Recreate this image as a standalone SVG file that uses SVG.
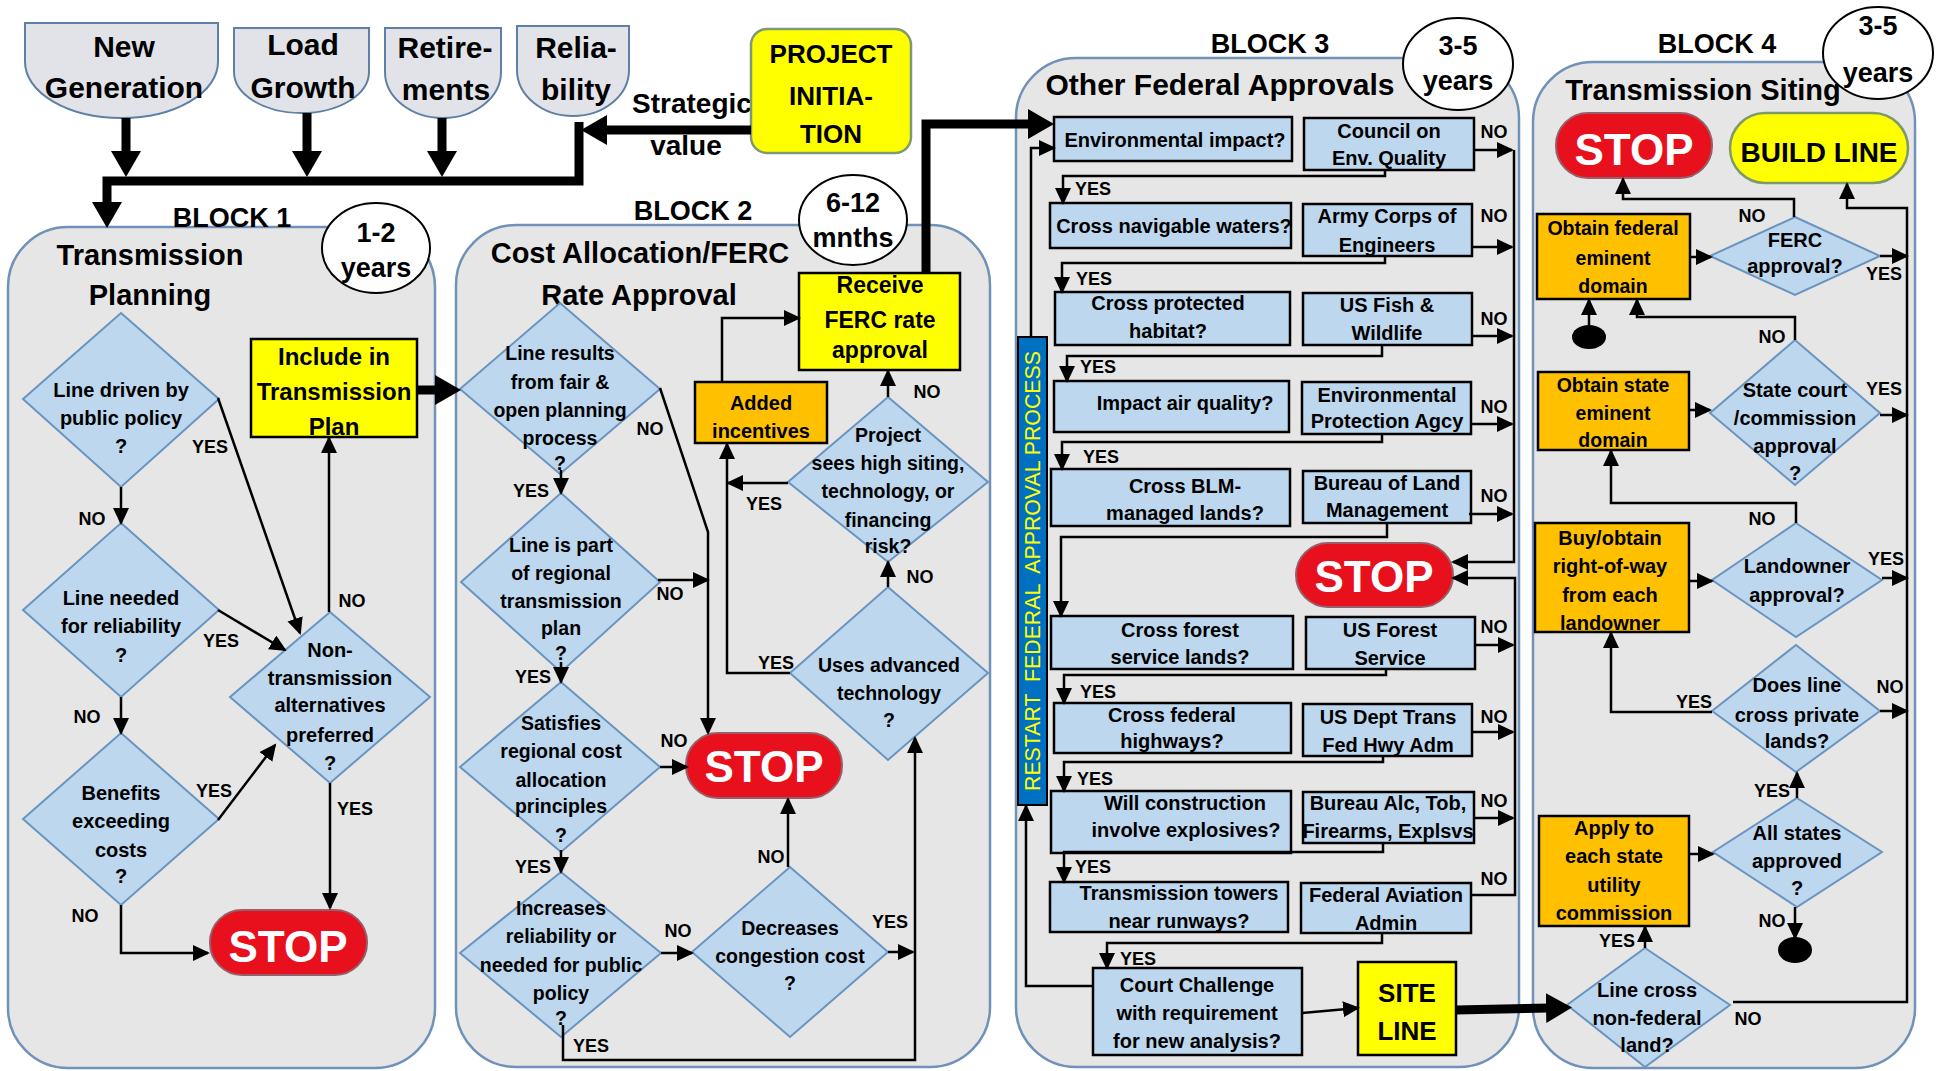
<svg xmlns="http://www.w3.org/2000/svg" width="1940" height="1071" viewBox="0 0 1940 1071">
<defs>
<style>
text{font-family:"Liberation Sans",Arial,sans-serif;font-weight:bold;text-anchor:middle;fill:#000}
.blk{fill:#E7E6E6;stroke:#7092B8;stroke-width:2.5}
.src{fill:#E2E3E8;stroke:#5F80A6;stroke-width:2}
.dia{fill:#BDD7EE;stroke:#6A94C0;stroke-width:2}
.bb{fill:#BDD7EE;stroke:#000;stroke-width:2.5}
.yb{fill:#FFFF00;stroke:#000;stroke-width:2.5}
.ob{fill:#FFC000;stroke:#000;stroke-width:2.5}
.stop{fill:#E8101C;stroke:#95606A;stroke-width:2}
.stopt{fill:#fff;font-size:44px}
.ell{fill:#fff;stroke:#000;stroke-width:2}
.c{fill:none;stroke:#000;stroke-width:2.5;marker-end:url(#ah)}
.cn{fill:none;stroke:#000;stroke-width:2.5}
.t{fill:none;stroke:#000;stroke-width:9;stroke-linejoin:miter;marker-end:url(#aht)}
.f20{font-size:20px}
.f195{font-size:19.5px}
.lb{font-size:18px}
.ti{font-size:29px}
.bk{font-size:27px}
.src-t{font-size:30px}
</style>
<marker id="ah" markerUnits="userSpaceOnUse" markerWidth="18" markerHeight="18" refX="15" refY="8" orient="auto"><path d="M0,0 L17,8 L0,16 z" fill="#000"/></marker>
<marker id="aht" markerUnits="userSpaceOnUse" markerWidth="28" markerHeight="32" refX="4" refY="15" orient="auto"><path d="M0,0 L26,15 L0,30 z" fill="#000"/></marker>
</defs>
<rect width="1940" height="1071" fill="#fff"/>

<!-- containers -->
<g id="block1"><rect class="blk" x="8" y="227" width="427" height="841" rx="60"/></g>
<g id="block2"><rect class="blk" x="456" y="225" width="534" height="842" rx="60"/></g>
<g id="block3"><rect class="blk" x="1016" y="58" width="503" height="1009" rx="60"/></g>
<g id="block4"><rect class="blk" x="1533" y="62" width="382" height="1006" rx="60"/></g>

<!-- top sources -->
<g id="new-generation"><path class="src" d="M25,23 H218 V62 A96.5,56 0 0 1 25,62 Z"/><text class="src-t" x="124" y="57">New</text><text class="src-t" x="124" y="98">Generation</text></g>
<g id="load-growth"><path class="src" d="M234,28 H369 V72 A67.5,41 0 0 1 234,72 Z"/><text class="src-t" x="303" y="55">Load</text><text class="src-t" x="303" y="98">Growth</text></g>
<g id="retirements"><path class="src" d="M385,28 H501 V72 A58,46 0 0 1 385,72 Z"/><text class="src-t" x="445" y="58">Retire-</text><text class="src-t" x="446" y="100">ments</text></g>
<g id="reliability"><path class="src" d="M517,26 H629 V70 A56,46 0 0 1 517,70 Z"/><text class="src-t" x="576" y="58">Relia-</text><text class="src-t" x="576" y="100">bility</text></g>

<g id="strategic-value-label"><text style="font-size:28px" x="692" y="113">Strategic</text><text style="font-size:28px" x="686" y="155">value</text></g>
<g id="project-initiation"><rect x="751" y="29" width="160" height="124" rx="16" fill="#FFFF00" stroke="#7E9A72" stroke-width="2.5"/><text style="font-size:26px" x="831" y="63">PROJECT</text><text style="font-size:26px" x="831" y="105">INITIA-</text><text style="font-size:26px" x="831" y="143">TION</text></g>

<!-- Block 1 nodes -->
<g id="block1-title"><text class="bk" x="232" y="227">BLOCK 1</text><text class="ti" x="150" y="265">Transmission</text><text class="ti" x="150" y="305">Planning</text></g>
<g id="dur1"><ellipse class="ell" cx="376" cy="248" rx="54" ry="45"/><text class="bk" x="376" y="242">1-2</text><text class="bk" x="376" y="277">years</text></g>
<g id="d-public-policy"><polygon class="dia" points="121,313 219,399 121,487 23,399"/><text class="f20" x="121" y="397">Line driven by</text><text class="f20" x="121" y="425">public policy</text><text class="f20" x="121" y="453">?</text></g>
<g id="d-reliability"><polygon class="dia" points="121,523 219,610 121,697 23,610"/><text class="f20" x="121" y="605">Line needed</text><text class="f20" x="121" y="633">for reliability</text><text class="f20" x="121" y="662">?</text></g>
<g id="d-benefits"><polygon class="dia" points="121,733 219,819 121,905 23,819"/><text class="f20" x="121" y="800">Benefits</text><text class="f20" x="121" y="828">exceeding</text><text class="f20" x="121" y="857">costs</text><text class="f20" x="121" y="883">?</text></g>
<g id="d-nontransmission"><polygon class="dia" points="330,612 430,697 330,783 230,697"/><text class="f20" x="330" y="657">Non-</text><text class="f20" x="330" y="685">transmission</text><text class="f20" x="330" y="712">alternatives</text><text class="f20" x="330" y="742">preferred</text><text class="f20" x="330" y="770">?</text></g>
<g id="include-plan"><rect class="yb" x="251" y="339" width="166" height="98"/><text style="font-size:24px" x="334" y="365">Include in</text><text style="font-size:24px" x="334" y="400">Transmission</text><text style="font-size:24px" x="334" y="435">Plan</text></g>
<g id="stop1"><rect class="stop" x="210" y="910" width="157" height="65" rx="32"/><text class="stopt" x="288" y="962">STOP</text></g>

<!-- Block 2 nodes -->
<g id="block2-title"><text class="bk" x="693" y="220">BLOCK 2</text><text class="ti" x="640" y="263">Cost Allocation/FERC</text><text class="ti" x="639" y="305">Rate Approval</text></g>
<g id="dur2"><ellipse class="ell" cx="853" cy="220" rx="54" ry="45"/><text class="bk" x="853" y="212">6-12</text><text class="bk" x="853" y="247">mnths</text></g>
<g id="receive-ferc"><rect class="yb" x="799" y="273" width="161" height="97"/><text style="font-size:23px" x="880" y="293">Receive</text><text style="font-size:23px" x="880" y="328">FERC rate</text><text style="font-size:23px" x="880" y="358">approval</text></g>
<g id="added-incentives"><rect class="ob" x="695" y="382" width="132" height="61"/><text class="f20" x="761" y="410">Added</text><text class="f20" x="761" y="438">incentives</text></g>
<g id="d-fair-open"><polygon class="dia" points="560,303 660,389 560,474 460,389"/><text class="f195" x="560" y="360">Line results</text><text class="f195" x="560" y="389">from fair &amp;</text><text class="f195" x="560" y="417">open planning</text><text class="f195" x="560" y="445">process</text><text class="f195" x="560" y="470">?</text></g>
<g id="d-regional-plan"><polygon class="dia" points="561,493 660,582 561,672 461,582"/><text class="f195" x="561" y="552">Line is part</text><text class="f195" x="561" y="580">of regional</text><text class="f195" x="561" y="608">transmission</text><text class="f195" x="561" y="635">plan</text><text class="f195" x="561" y="660">?</text></g>
<g id="d-cost-allocation"><polygon class="dia" points="561,682 660,767 561,852 460,767"/><text class="f195" x="561" y="730">Satisfies</text><text class="f195" x="561" y="758">regional cost</text><text class="f195" x="561" y="787">allocation</text><text class="f195" x="561" y="813">principles</text><text class="f195" x="561" y="842">?</text></g>
<g id="d-increases-reliability"><polygon class="dia" points="561,872 661,953 561,1037 460,953"/><text class="f195" x="561" y="915">Increases</text><text class="f195" x="561" y="943">reliability or</text><text class="f195" x="561" y="972">needed for public</text><text class="f195" x="561" y="1000">policy</text><text class="f195" x="561" y="1025">?</text></g>
<g id="d-congestion"><polygon class="dia" points="790,867 888,952 790,1037 692,952"/><text class="f195" x="790" y="935">Decreases</text><text class="f195" x="790" y="963">congestion cost</text><text class="f195" x="790" y="990">?</text></g>
<g id="d-advanced-tech"><polygon class="dia" points="888,587 988,673 888,760 790,673"/><text class="f195" x="889" y="672">Uses advanced</text><text class="f195" x="889" y="700">technology</text><text class="f195" x="889" y="727">?</text></g>
<g id="d-project-risk"><polygon class="dia" points="888,397 988,482 888,562 788,482"/><text class="f195" x="888" y="442">Project</text><text class="f195" x="888" y="470">sees high siting,</text><text class="f195" x="888" y="498">technology, or</text><text class="f195" x="888" y="527">financing</text><text class="f195" x="888" y="553">risk?</text></g>
<g id="stop2"><rect class="stop" x="686" y="733" width="156" height="65" rx="32"/><text class="stopt" x="764" y="782">STOP</text></g>

<!-- Block 3 nodes -->
<g id="block3-title"><text class="bk" x="1270" y="53">BLOCK 3</text><text style="font-size:30px" x="1220" y="95">Other Federal Approvals</text></g>
<g id="dur3"><ellipse class="ell" cx="1458" cy="64" rx="55" ry="46"/><text class="bk" x="1458" y="55">3-5</text><text class="bk" x="1458" y="90">years</text></g>
<g id="restart-bar"><rect x="1018" y="337" width="29" height="468" fill="#0070C0" stroke="#000" stroke-width="2"/><text transform="translate(1040,571) rotate(-90)" style="font-size:22px;font-weight:normal;fill:#FFFF00" textLength="440" lengthAdjust="spacingAndGlyphs" xml:space="preserve">RESTART  FEDERAL  APPROVAL PROCESS</text></g>
<g id="q-environmental"><rect class="bb" x="1054" y="117" width="238" height="44"/><text class="f20" x="1175" y="147">Environmental impact?</text></g>
<g id="a-ceq"><rect class="bb" x="1304" y="118" width="170" height="52"/><text class="f20" x="1389" y="138">Council on</text><text class="f20" x="1389" y="165">Env. Quality</text></g>
<g id="q-navigable"><rect class="bb" x="1050" y="203" width="241" height="45"/><text class="f20" x="1174" y="233">Cross navigable waters?</text></g>
<g id="a-army"><rect class="bb" x="1303" y="204" width="169" height="52"/><text class="f20" x="1387" y="223">Army Corps of</text><text class="f20" x="1387" y="252">Engineers</text></g>
<g id="q-habitat"><rect class="bb" x="1055" y="292" width="235" height="53"/><text class="f20" x="1168" y="310">Cross protected</text><text class="f20" x="1168" y="338">habitat?</text></g>
<g id="a-fish"><rect class="bb" x="1303" y="293" width="169" height="52"/><text class="f20" x="1387" y="312">US Fish &amp;</text><text class="f20" x="1387" y="340">Wildlife</text></g>
<g id="q-air"><rect class="bb" x="1054" y="381" width="235" height="51"/><text class="f20" x="1185" y="410">Impact air quality?</text></g>
<g id="a-epa"><rect class="bb" x="1302" y="382" width="169" height="52"/><text class="f20" x="1387" y="402">Environmental</text><text class="f20" x="1387" y="428">Protection Agcy</text></g>
<g id="q-blm"><rect class="bb" x="1051" y="469" width="239" height="57"/><text class="f20" x="1185" y="493">Cross BLM-</text><text class="f20" x="1185" y="520">managed lands?</text></g>
<g id="a-blm"><rect class="bb" x="1303" y="471" width="168" height="52"/><text class="f20" x="1387" y="490">Bureau of Land</text><text class="f20" x="1387" y="517">Management</text></g>
<g id="stop3"><rect class="stop" x="1296" y="543" width="157" height="64" rx="32"/><text class="stopt" x="1374" y="592">STOP</text></g>
<g id="q-forest"><rect class="bb" x="1051" y="616" width="242" height="53"/><text class="f20" x="1180" y="637">Cross forest</text><text class="f20" x="1180" y="664">service lands?</text></g>
<g id="a-forest"><rect class="bb" x="1306" y="617" width="169" height="52"/><text class="f20" x="1390" y="637">US Forest</text><text class="f20" x="1390" y="665">Service</text></g>
<g id="q-highways"><rect class="bb" x="1054" y="703" width="237" height="50"/><text class="f20" x="1172" y="722">Cross federal</text><text class="f20" x="1172" y="748">highways?</text></g>
<g id="a-dot"><rect class="bb" x="1303" y="704" width="169" height="52"/><text class="f20" x="1388" y="724">US Dept Trans</text><text class="f20" x="1388" y="752">Fed Hwy Adm</text></g>
<g id="q-explosives"><rect class="bb" x="1051" y="791" width="240" height="62"/><text class="f20" x="1185" y="810">Will construction</text><text class="f20" x="1186" y="837">involve explosives?</text></g>
<g id="a-atf"><rect class="bb" x="1303" y="792" width="171" height="51"/><text class="f20" x="1388" y="810">Bureau Alc, Tob,</text><text class="f20" x="1388" y="838">Firearms, Explsvs</text></g>
<g id="q-runways"><rect class="bb" x="1050" y="882" width="238" height="50"/><text class="f20" x="1179" y="900">Transmission towers</text><text class="f20" x="1179" y="928">near runways?</text></g>
<g id="a-faa"><rect class="bb" x="1301" y="883" width="170" height="50"/><text class="f20" x="1386" y="902">Federal Aviation</text><text class="f20" x="1386" y="930">Admin</text></g>
<g id="q-court"><rect class="bb" x="1093" y="968" width="209" height="87"/><text class="f20" x="1197" y="992">Court Challenge</text><text class="f20" x="1197" y="1020">with requirement</text><text class="f20" x="1197" y="1048">for new analysis?</text></g>
<g id="site-line"><rect class="yb" x="1358" y="962" width="98" height="93"/><text style="font-size:26px" x="1407" y="1002">SITE</text><text style="font-size:26px" x="1407" y="1040">LINE</text></g>

<!-- Block 4 nodes -->
<g id="block4-title"><text class="bk" x="1717" y="53">BLOCK 4</text><text class="ti" x="1703" y="100">Transmission Siting</text></g>
<g id="dur4"><ellipse class="ell" cx="1878" cy="53" rx="55" ry="46"/><text class="bk" x="1878" y="35">3-5</text><text class="bk" x="1878" y="82">years</text></g>
<g id="stop4"><rect class="stop" x="1556" y="113" width="156" height="65" rx="32"/><text class="stopt" x="1634" y="165">STOP</text></g>
<g id="build-line"><rect x="1730" y="113" width="178" height="70" rx="35" fill="#FFFF00" stroke="#7E9A6A" stroke-width="2.5"/><text style="font-size:28px" x="1819" y="162">BUILD LINE</text></g>
<g id="d-ferc"><polygon class="dia" points="1795,217 1880,256 1795,295 1710,256"/><text class="f20" x="1795" y="247">FERC</text><text class="f20" x="1795" y="273">approval?</text></g>
<g id="federal-domain"><rect class="ob" x="1537" y="214" width="153" height="85"/><text class="f195" x="1613" y="235">Obtain federal</text><text class="f195" x="1613" y="265">eminent</text><text class="f195" x="1613" y="293">domain</text></g>
<g id="dot1"><ellipse cx="1589" cy="337" rx="17" ry="12" fill="#000"/></g>
<g id="d-state-court"><polygon class="dia" points="1795,340 1880,413 1795,485 1710,413"/><text class="f20" x="1795" y="397">State court</text><text class="f20" x="1795" y="425">/commission</text><text class="f20" x="1795" y="453">approval</text><text class="f20" x="1795" y="480">?</text></g>
<g id="state-domain"><rect class="ob" x="1538" y="372" width="151" height="78"/><text class="f195" x="1613" y="392">Obtain state</text><text class="f195" x="1613" y="420">eminent</text><text class="f195" x="1613" y="447">domain</text></g>
<g id="d-landowner"><polygon class="dia" points="1796,523 1882,580 1796,637 1712,580"/><text class="f20" x="1797" y="573">Landowner</text><text class="f20" x="1797" y="602">approval?</text></g>
<g id="buy-row"><rect class="ob" x="1535" y="523" width="154" height="109"/><text class="f20" x="1610" y="545">Buy/obtain</text><text class="f20" x="1610" y="573">right-of-way</text><text class="f20" x="1610" y="602">from each</text><text class="f20" x="1610" y="630">landowner</text></g>
<g id="d-private"><polygon class="dia" points="1796,645 1880,711 1796,772 1712,711"/><text class="f20" x="1797" y="692">Does line</text><text class="f20" x="1797" y="722">cross private</text><text class="f20" x="1797" y="748">lands?</text></g>
<g id="d-all-states"><polygon class="dia" points="1797,798 1882,852 1797,907 1713,852"/><text class="f20" x="1797" y="840">All states</text><text class="f20" x="1797" y="868">approved</text><text class="f20" x="1797" y="895">?</text></g>
<g id="dot2"><ellipse cx="1795" cy="950" rx="17" ry="13" fill="#000"/></g>
<g id="apply-state"><rect class="ob" x="1539" y="816" width="150" height="110"/><text class="f20" x="1614" y="835">Apply to</text><text class="f20" x="1614" y="863">each state</text><text class="f20" x="1614" y="892">utility</text><text class="f20" x="1614" y="920">commission</text></g>
<g id="d-nonfederal"><polygon class="dia" points="1645,948 1730,1005 1645,1067 1567,1005"/><text class="f20" x="1647" y="997">Line cross</text><text class="f20" x="1647" y="1025">non-federal</text><text class="f20" x="1647" y="1052">land?</text></g>

<!-- connectors -->
<g id="connectors">
<path class="t" d="M126,118 V155"/>
<path class="t" d="M307,113 V155"/>
<path class="t" d="M442,118 V155"/>
<path class="t" d="M579,122 V181 H107 V206"/>
<path class="t" d="M751,130 H603"/>
<path class="t" d="M417,390 H439"/>
<path class="t" d="M926,273 V124 H1032"/>
<path class="t" d="M1456,1010 L1550,1008"/>

<!-- block 1 -->
<path class="c" d="M121,487 V523"/>
<path class="c" d="M218,398 L300,633"/>
<path class="c" d="M218,610 L285,650"/>
<path class="c" d="M121,697 V733"/>
<path class="c" d="M218,820 L275,745"/>
<path class="c" d="M121,905 V953 H208"/>
<path class="c" d="M330,783 V908"/>
<path class="c" d="M329,612 V438"/>

<!-- block 2 -->
<path class="c" d="M561,470 V493"/>
<path class="c" d="M660,388 L708,532 V733"/>
<path class="c" d="M658,580 H708"/>
<path class="c" d="M561,662 V682"/>
<path class="c" d="M660,767 H687"/>
<path class="c" d="M561,850 V872"/>
<path class="c" d="M661,953 H692"/>
<path class="c" d="M788,867 V799"/>
<path class="c" d="M888,952 H913"/>
<path class="c" d="M563,1025 V1060 H915 V738"/>
<path class="c" d="M790,673 H727 V444"/>
<path class="c" d="M788,483 H728"/>
<path class="c" d="M888,587 V562"/>
<path class="c" d="M888,397 V371"/>
<path class="c" d="M722,382 V318 H799"/>

<!-- block 3 -->
<path class="c" d="M1031,337 V148 H1054"/>
<path class="c" d="M1093,986 H1026 V806"/>
<path class="c" d="M1474,150 H1512"/>
<path class="c" d="M1472,247 H1512"/>
<path class="c" d="M1472,336 H1512"/>
<path class="c" d="M1471,424 H1512"/>
<path class="c" d="M1469,514 H1512"/>
<path class="c" d="M1514,150 V562 H1453"/>
<path class="c" d="M1475,645 H1513"/>
<path class="c" d="M1472,732 H1513"/>
<path class="c" d="M1474,818 H1513"/>
<path class="c" d="M1471,895 H1515 V578 H1453"/>
<path class="c" d="M1385,170 V176 H1063 V203"/>
<path class="c" d="M1385,256 V263 H1062 V292"/>
<path class="c" d="M1382,345 V356 H1067 V381"/>
<path class="c" d="M1382,434 V442 H1062 V469"/>
<path class="c" d="M1387,523 V537 H1061 V616"/>
<path class="c" d="M1386,669 V675 H1064 V703"/>
<path class="c" d="M1383,756 V762 H1064 V791"/>
<path class="c" d="M1383,843 V852 H1064 V882"/>
<path class="c" d="M1382,933 V943 H1107 V968"/>
<path class="c" d="M1302,1013 L1358,1008"/>

<!-- block 4 -->
<path class="c" d="M1589,325 V300"/>
<path class="c" d="M1690,257 H1711"/>
<path class="c" d="M1794,217 V199 H1623 V179"/>
<path class="c" d="M1880,256 H1907"/>
<path class="c" d="M1733,1002 H1907 V208 H1847 V184"/>
<path class="c" d="M1689,410 H1710"/>
<path class="c" d="M1880,415 H1907"/>
<path class="c" d="M1795,340 V317 H1637 V300"/>
<path class="c" d="M1689,581 H1712"/>
<path class="c" d="M1882,578 H1907"/>
<path class="c" d="M1796,523 V503 H1611 V451"/>
<path class="c" d="M1880,711 H1907"/>
<path class="c" d="M1712,712 H1611 V633"/>
<path class="c" d="M1797,798 V773"/>
<path class="c" d="M1795,907 V938"/>
<path class="c" d="M1689,854 H1713"/>
<path class="c" d="M1645,948 V927"/>
</g>

<!-- connector labels -->
<g id="labels">
<text class="lb" x="92" y="525">NO</text>
<text class="lb" x="210" y="453">YES</text>
<text class="lb" x="221" y="647">YES</text>
<text class="lb" x="87" y="723">NO</text>
<text class="lb" x="214" y="797">YES</text>
<text class="lb" x="85" y="922">NO</text>
<text class="lb" x="355" y="815">YES</text>
<text class="lb" x="352" y="607">NO</text>

<text class="lb" x="531" y="497">YES</text>
<text class="lb" x="650" y="435">NO</text>
<text class="lb" x="670" y="600">NO</text>
<text class="lb" x="533" y="683">YES</text>
<text class="lb" x="674" y="747">NO</text>
<text class="lb" x="533" y="873">YES</text>
<text class="lb" x="678" y="937">NO</text>
<text class="lb" x="771" y="863">NO</text>
<text class="lb" x="890" y="928">YES</text>
<text class="lb" x="591" y="1052">YES</text>
<text class="lb" x="776" y="669">YES</text>
<text class="lb" x="764" y="510">YES</text>
<text class="lb" x="920" y="583">NO</text>
<text class="lb" x="927" y="398">NO</text>

<text class="lb" x="1494" y="138">NO</text>
<text class="lb" x="1494" y="222">NO</text>
<text class="lb" x="1494" y="325">NO</text>
<text class="lb" x="1494" y="413">NO</text>
<text class="lb" x="1494" y="502">NO</text>
<text class="lb" x="1494" y="633">NO</text>
<text class="lb" x="1494" y="723">NO</text>
<text class="lb" x="1494" y="807">NO</text>
<text class="lb" x="1494" y="885">NO</text>
<text class="lb" x="1093" y="195">YES</text>
<text class="lb" x="1094" y="285">YES</text>
<text class="lb" x="1098" y="373">YES</text>
<text class="lb" x="1101" y="463">YES</text>
<text class="lb" x="1098" y="698">YES</text>
<text class="lb" x="1095" y="785">YES</text>
<text class="lb" x="1093" y="873">YES</text>
<text class="lb" x="1138" y="965">YES</text>

<text class="lb" x="1752" y="222">NO</text>
<text class="lb" x="1884" y="280">YES</text>
<text class="lb" x="1884" y="395">YES</text>
<text class="lb" x="1772" y="343">NO</text>
<text class="lb" x="1886" y="565">YES</text>
<text class="lb" x="1762" y="525">NO</text>
<text class="lb" x="1890" y="693">NO</text>
<text class="lb" x="1694" y="708">YES</text>
<text class="lb" x="1772" y="797">YES</text>
<text class="lb" x="1772" y="927">NO</text>
<text class="lb" x="1617" y="947">YES</text>
<text class="lb" x="1748" y="1025">NO</text>
</g>
</svg>
